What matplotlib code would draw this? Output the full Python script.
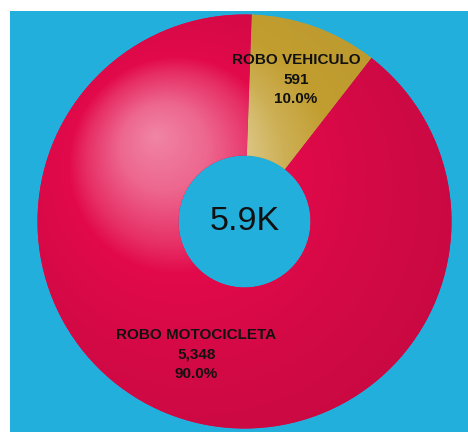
import numpy as np
import matplotlib
matplotlib.use("Agg")
import matplotlib.pyplot as plt
from matplotlib.patches import Rectangle

# data
categories = ["ROBO VEHICULO", "ROBO MOTOCICLETA"]
counts = [591, 5348]

W, H = 468, 432
bg_blue = "#22afdc"
base_rgb = [(194, 158, 48), (226, 10, 74)]

fig = plt.figure(figsize=(W / 100, H / 100), dpi=100, facecolor="white")
ax = fig.add_axes([0, 0, 1, 1])

# blue panel (white margin on left and top)
ax.add_patch(Rectangle((10, 0), W - 10, H - 11, facecolor=bg_blue, edgecolor="none", zorder=0))

cx, cy = 244.5, H - 221.5
R, r_in = 207, 66
start = 88

wedges, _ = ax.pie(counts, colors=[np.array(c) / 255 for c in base_rgb],
                   startangle=start, counterclock=False,
                   center=(cx, cy), radius=R,
                   wedgeprops=dict(width=R - r_in, edgecolor="none", linewidth=0))

# focal radial gradient: light spot at f, outer circle centred at g with radius rho
yy, xx = np.mgrid[0:H, 0:W] + 0.5
fx, fy = 155, H - 135
gx, gy, rho = 177, H - 165, 108
dx, dy = xx - fx, yy - fy
d = np.hypot(dx, dy) + 1e-9
ux, uy = dx / d, dy / d
b = ux * (fx - gx) + uy * (fy - gy)
cc = (fx - gx) ** 2 + (fy - gy) ** 2 - rho ** 2
s = -b + np.sqrt(b * b - cc)
t = d / s

mix = [
    ([0, 0.7, 1.0, 1.4, 2.5], [0.5, 0.4, 0.18, 0.0, -0.04]),
    ([0, 0.4, 0.8, 1.0, 1.6, 2.5], [0.5, 0.38, 0.15, 0.0, -0.06, -0.12]),
]
for w, rgb, (ts, ms) in zip(wedges, base_rgb, mix):
    m = np.interp(t, ts, ms)[..., None]
    base = np.array(rgb) / 255
    img = np.where(m >= 0, base + (1 - base) * m, base * (1 + m))
    im = ax.imshow(np.clip(img, 0, 1), extent=(0, W, 0, H), origin="lower",
                   interpolation="bilinear", zorder=2)
    im.set_clip_path(w)

# labels inside the slices
total = sum(counts)
label_r = [151, 141]
angle = start
for name, val, lr in zip(categories, counts, label_r):
    span = 360 * val / total
    mid = np.deg2rad(angle - span / 2)
    angle -= span
    ax.text(cx + lr * np.cos(mid), cy + lr * np.sin(mid),
            f"{name}\n{val:,}\n{100 * val / total:.1f}%",
            ha="center", va="center", fontsize=11, fontweight="bold",
            family="Liberation Sans", color="#111111", linespacing=1.5, zorder=5)

ax.text(cx, cy, f"{total / 1000:.1f}K", ha="center", va="center", fontsize=24.5,
        family="Liberation Sans", color="#111111", zorder=5)

ax.set_xlim(0, W)
ax.set_ylim(0, H)
ax.set_aspect("auto")
ax.axis("off")

fig.savefig("out.png", dpi=100, facecolor="white")
